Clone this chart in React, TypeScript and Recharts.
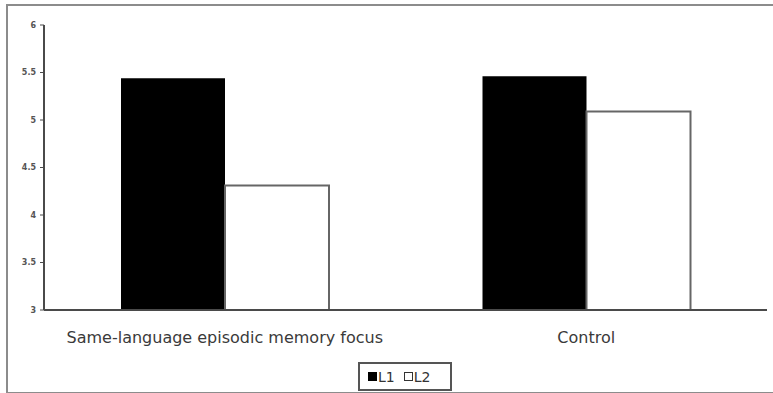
import React from "react";
import { BarChart, Bar, XAxis, YAxis, Legend } from "recharts";

const categories = ["Same-language episodic memory focus", "Control"];
const l1Values = [5.44, 5.46];
const l2Values = [4.31, 5.09];
const yTicks = [3, 3.5, 4, 4.5, 5, 5.5, 6];

const data = categories.map((name, i) => ({
  name,
  L1: l1Values[i],
  L2: l2Values[i],
}));

const FONT = "'DejaVu Sans', Verdana, sans-serif";

const LegendBox = () => (
  <div
    style={{
      display: "flex",
      alignItems: "center",
      width: 94,
      height: 29,
      padding: "0 0 0 8px",
      border: "2px solid #555",
      background: "#fff",
      fontFamily: FONT,
      fontSize: 14,
      color: "#333",
      boxSizing: "border-box",
    }}
  >
    <span style={{ width: 9, height: 9, background: "#000", display: "inline-block", marginRight: 1 }} />
    <span style={{ marginRight: 9 }}>L1</span>
    <span
      style={{
        width: 7,
        height: 7,
        border: "1.5px solid #333",
        background: "#fff",
        display: "inline-block",
        marginRight: 1,
      }}
    />
    <span>L2</span>
  </div>
);

export default function App() {
  return (
    <div style={{ position: "fixed", left: 0, top: 0, width: 773, height: 393, overflow: "hidden", background: "#fff" }}>
      {/* outer frame, right side runs off the edge */}
      <div
        style={{
          position: "absolute",
          left: 6,
          top: 4,
          width: 820,
          height: 386,
          border: "2px solid #8c8c8c",
        }}
      />
      <div style={{ position: "absolute", left: 0, top: 0 }}>
        <BarChart
          width={773}
          height={393}
          data={data}
          margin={{ top: 25, right: 6, left: 0, bottom: 0 }}
          barGap={0}
          barSize={104}
        >
          <XAxis
            dataKey="name"
            height={54}
            tickLine={false}
            axisLine={{ stroke: "#4a4a4a", strokeWidth: 2 }}
            tickMargin={16}
            tick={{ fontFamily: FONT, fontSize: 16, fill: "#3a3a3a" }}
          />
          <YAxis
            width={44}
            domain={[3, 6]}
            ticks={yTicks}
            interval={0}
            tickSize={4}
            tickMargin={4}
            axisLine={{ stroke: "#4a4a4a", strokeWidth: 2 }}
            tickLine={{ stroke: "#4a4a4a" }}
            tick={{ fontFamily: FONT, fontSize: 8, fontWeight: "bold", fill: "#555" }}
          />
          <Legend
            content={<LegendBox />}
            height={29}
            wrapperStyle={{ left: 358, bottom: 2, width: "auto" }}
          />
          <Bar dataKey="L1" fill="#000" isAnimationActive={false} />
          <Bar dataKey="L2" fill="#fff" stroke="#666" strokeWidth={2} isAnimationActive={false} />
        </BarChart>
      </div>
    </div>
  );
}
